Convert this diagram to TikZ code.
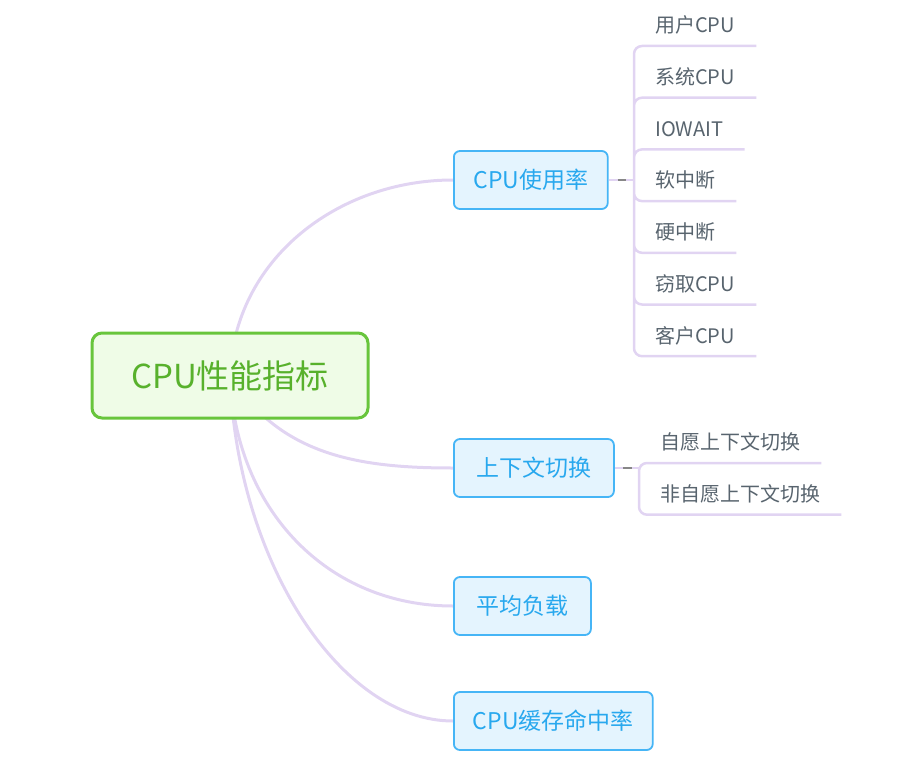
\documentclass[tikz,border=0pt]{standalone}
\usepackage{fontspec}
\setmainfont{Noto Sans CJK SC}
\definecolor{rootgreen}{RGB}{104,197,60}
\definecolor{rootfill}{RGB}{239,252,231}
\definecolor{roottext}{RGB}{88,177,44}
\definecolor{topicblue}{RGB}{70,181,246}
\definecolor{topicfill}{RGB}{228,244,254}
\definecolor{topictext}{RGB}{40,168,238}
\definecolor{leafgray}{RGB}{88,100,110}
\definecolor{lilac}{RGB}{225,212,242}
\definecolor{foldgray}{RGB}{135,135,135}
\usetikzlibrary{positioning, backgrounds, calc}

\begin{document}
\begin{tikzpicture}[
x = 1pt, y = 1pt,
node distance = 11.3pt,
  branch/.style = {draw=lilac, line width=3pt},
    twig/.style = {draw=lilac, line width=2.5pt, rounded corners=8pt},
    fold/.style = {draw=foldgray, line width=2pt},
  rootbox/.style = {draw=rootgreen, fill=rootfill, text=roottext,
                 line width=3pt, rounded corners=10pt,
                 minimum width=276pt, minimum height=85pt,
                 font=\fontsize{33}{33}\selectfont},
   topic/.style = {draw=topicblue, fill=topicfill, text=topictext,
                 line width=1.8pt, rounded corners=6pt, anchor=west,
                 minimum height=58pt, inner xsep=22.5pt,
                 font=\fontsize{23}{23}\selectfont},
    leaf/.style = {text=leafgray, inner xsep=21pt, inner ysep=10pt,
                 text height=17pt, text depth=3pt,
                 font=\fontsize{20}{20}\selectfont}
                 ]
\useasboundingbox (0,0) rectangle (918,-784);

\node[rootbox] (cpu) at (230,-375.5) {CPU性能指标};

\node[topic, inner xsep=19.5pt] (usage) at (453,-180) {CPU使用率};
\node[topic] (ctx)   at (453,-468) {上下文切换};
\node[topic] (load)  at (453,-606) {平均负载};
\node[topic, inner xsep=19pt] (cache) at (453,-721) {CPU缓存命中率};

% CPU使用率
\coordinate (usagej) at (634,-180);
\node[leaf, anchor=south west] (user) at (634,-46) {用户CPU};
\node[leaf, below=of user.south west,  anchor=north west] (sys)   {系统CPU};
\node[leaf, below=of sys.south west,   anchor=north west] (iow)   {IOWAIT};
\node[leaf, below=of iow.south west,   anchor=north west] (soft)  {软中断};
\node[leaf, below=of soft.south west,  anchor=north west] (hard)  {硬中断};
\node[leaf, below=of hard.south west,  anchor=north west] (steal) {窃取CPU};
\node[leaf, below=of steal.south west, anchor=north west] (guest) {客户CPU};

% 上下文切换
\coordinate (ctxj) at (639,-468);
\node[leaf, anchor=south west] (vol) at (639,-463) {自愿上下文切换};
\node[leaf, below=of vol.south west, anchor=north west] (invol) {非自愿上下文切换};

\begin{scope}[on background layer]
\draw[branch] (cpu.center) to[out=88, in=180] (usage.west);
\draw[branch] (cpu.center) to[out=-58, in=180] (ctx.west);
\draw[branch] (cpu.center) to[out=-88, in=180, out looseness=1.07] (load.west);
\draw[branch] (cpu.center) to[out=-88, in=180,
                              out looseness=1.15, in looseness=0.7] (cache.west);
\end{scope}

\draw[twig] (usage.east) -- (usagej);
\draw[fold] ($(usage.east)!0.35!(usagej)$) -- ($(usage.east)!0.7!(usagej)$);
\draw[twig] (usagej) |- (user.south east)
            (usagej) |- (sys.south east)
            (usagej) |- (iow.south east)
            (usagej) |- (soft.south east)
            (usagej) |- (hard.south east)
            (usagej) |- (steal.south east)
            (usagej) |- (guest.south east);

\draw[twig] (ctx.east) -- (ctxj);
\draw[fold] ($(ctx.east)!0.35!(ctxj)$) -- ($(ctx.east)!0.7!(ctxj)$);
\draw[twig] (ctxj) |- (vol.south east)
            (ctxj) |- (invol.south east);
\end{tikzpicture}
\end{document}
